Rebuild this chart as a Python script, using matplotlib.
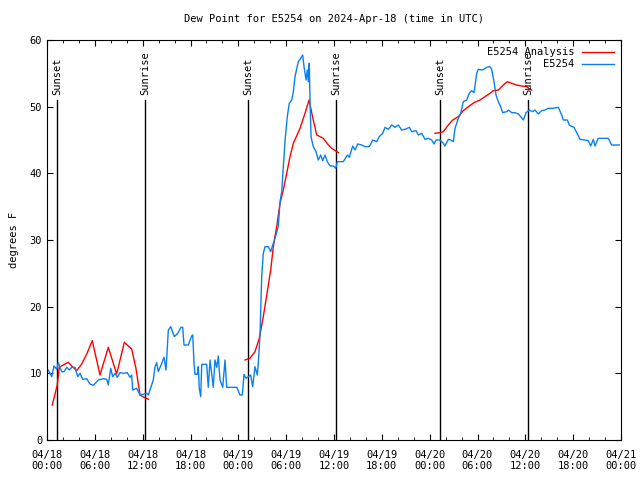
import numpy as np
import pandas as pd
import matplotlib
matplotlib.use('Agg')
import matplotlib.pyplot as plt
import matplotlib.dates as mdates

# hours since 2024-04-18 00:00 UTC, dew point in F
obs_hours = [0.16, 0.59, 0.88, 1.22, 1.42, 1.84, 2.13, 2.47, 2.80, 3.10, 3.51, 3.85, 4.14, 4.48, 4.98,
             5.39, 5.81, 6.44, 7.06, 7.49, 7.69, 7.99, 8.24, 8.53, 8.82, 9.16, 9.66, 10.07, 10.41, 10.62,
             10.75, 11.25, 11.67, 12.51, 12.71, 13.33, 13.55, 13.76, 13.96, 14.39, 14.68, 14.93, 15.22,
             15.52, 15.97, 16.39, 16.81, 17.02, 17.19, 17.72, 18.15, 18.28, 18.44, 18.56, 18.85, 18.98,
             19.10, 19.28, 19.41, 20.03, 20.23, 20.45, 20.66, 20.86, 21.07, 21.29, 21.49, 21.70, 22.04,
             22.33, 22.54, 23.80, 24.21, 24.50, 24.71, 24.96, 25.25, 25.55, 25.80, 26.09, 26.38, 26.50,
             26.72, 26.93, 27.13, 27.35, 27.76, 28.06, 28.31, 28.60, 29.01, 29.23, 29.44, 29.64, 29.85,
             30.14, 30.39, 30.70, 30.90, 31.11, 31.52, 31.82, 32.07, 32.24, 32.49, 32.65, 32.78, 32.90,
             32.99, 33.12, 33.40, 33.74, 34.03, 34.33, 34.58, 34.87, 35.16, 35.50, 35.91, 36.21, 36.42,
             37.17, 37.67, 37.92, 38.35, 38.64, 38.97, 39.48, 39.89, 40.43, 40.86, 41.36, 41.68, 42.11,
             42.40, 42.81, 43.24, 43.65, 44.07, 44.49, 44.91, 45.45, 45.75, 46.29, 46.58, 47.00, 47.42,
             47.83, 48.26, 48.54, 48.80, 49.30, 49.71, 49.92, 50.34, 50.64, 50.97, 51.18, 51.59, 51.89,
             52.22, 52.65, 52.97, 53.27, 53.56, 53.90, 54.10, 54.65, 55.16, 55.57, 55.78, 56.07, 56.32,
             56.61, 56.91, 57.16, 57.66, 57.87, 58.29, 58.71, 59.12, 59.42, 59.75, 60.09, 60.50, 60.93,
             61.21, 61.63, 62.05, 62.47, 62.88, 63.43, 64.14, 64.56, 64.76, 65.27, 65.52, 65.69, 66.11,
             66.44, 66.86, 67.49, 67.90, 68.20, 68.53, 68.74, 69.15, 70.41, 70.83, 71.79]
obs_dewpt = [10.5, 9.5, 11.1, 10.6, 11.6, 10.25, 10.25, 10.9, 10.5, 10.9, 10.9, 9.5, 10, 9.1, 9.2,
             8.4, 8.2, 9, 9.2, 9.1, 8.25, 10.75, 9.5, 10, 9.4, 10.1, 10, 10.1, 9.4, 9.75,
             7.5, 7.75, 6.75, 7, 6.75, 9, 11, 11.6, 10.25, 11.5, 12.4, 10.5, 16.5,
             17, 15.5, 16, 16.9, 16.9, 14.25, 14.25, 15.6, 15.75, 11.5, 9.85, 9.85, 11,
             7.75, 6.5, 11.35, 11.35, 7.9, 12, 9.85, 7.9, 12, 10.9, 12.6, 9, 7.9,
             12, 7.9, 7.9, 6.75, 6.75, 9.85, 9.25, 9.5, 9.75, 8, 11, 9.75, 11.5,
             15.75, 24.5, 28, 29, 29, 28.25, 29.25, 30.25, 32, 35.75, 37.25, 41, 44.75,
             48.5, 50.5, 51, 52.25, 54.5, 56.75, 57.25, 57.75, 56, 54, 55.5, 53.75, 56.5,
             51, 45.5, 44, 43.25, 42, 42.75, 41.9, 42.75, 41.75, 41.1, 41.1, 40.75, 41.75,
             41.75, 42.75, 42.4, 44.1, 43.5, 44.4, 44.25, 44, 44, 45, 44.75, 45.5, 46,
             46.9, 46.6, 47.25, 46.9, 47.25, 46.5, 46.6, 46.9, 46.25, 46.4, 45.75, 46, 45.1,
             45.25, 45, 44.4, 45, 45, 44.5, 44.1, 45.1, 45, 44.75, 46.75, 48.25, 49,
             50.75, 51, 52, 52.4, 52.1, 55, 55.6, 55.5, 55.9, 56, 55.6, 53.75, 51.75,
             50.75, 50, 49.1, 49.25, 49.5, 49.1, 49.1, 48.9, 48.5, 48, 49.1, 49.5, 49.25,
             49.5, 48.9, 49.4, 49.5, 49.75, 49.75, 49.9, 48.75, 48, 48, 47.25, 47.1, 46.9,
             46.1, 45.1, 45, 44.9, 44.1, 45.1, 44.1, 45.25, 45.25, 44.25, 44.25]

# analysis, NaN splits the three runs
ana_hours = [0.66, 1.29, 1.54, 2.04, 2.67, 3.10, 3.73, 4.35, 4.98, 5.68, 6.65, 7.69, 8.74, 9.70,
             10.62, 11.16, 11.67, 12.17, 12.71, 18.0,
             24.84, 25.46, 26.09, 26.63, 27.13, 27.63, 28.06, 28.39, 28.81, 29.23, 29.64, 30.07,
             30.48, 30.90, 31.74, 32.36, 32.87, 33.40, 33.83, 34.66, 35.29, 35.71, 36.54, 42.0,
             48.67, 49.30, 49.71, 50.34, 50.89, 51.59, 52.22, 52.97, 53.56, 54.32, 54.94, 55.57,
             55.98, 56.61, 57.24, 57.74, 58.29, 58.92, 59.55, 60.17, 60.59, 60.80]
ana_dewpt = [5.25, 8.25, 10.9, 11.25, 11.65, 11.1, 10.4, 11.4, 12.9, 14.9, 9.75, 13.9, 9.9, 14.65,
             13.65, 10.75, 6.75, 6.4, 6.1, np.nan,
             12, 12.25, 13.25, 15.25, 18.5, 22.25, 25.5, 29, 32, 35.5, 37.5, 40,
             42.5, 44.5, 46.75, 49, 51, 48, 45.75, 45.25, 44.25, 43.75, 43.1, np.nan,
             46, 46.1, 46.25, 47.25, 48, 48.5, 49.4, 50.1, 50.6, 51, 51.5, 52,
             52.4, 52.5, 53.25, 53.75, 53.5, 53.25, 53.1, 53, 52.6, 52.5]

sun_hours = [1.25, 12.3, 25.2, 36.3, 49.3, 60.35]
sun_labels = ['Sunset', 'Sunrise', 'Sunset', 'Sunrise', 'Sunset', 'Sunrise']

t0 = pd.Timestamp('2024-04-18 00:00')
to_time = lambda h: [t0 + pd.Timedelta(hours=v) for v in h]

plt.rcParams['font.family'] = 'DejaVu Sans Mono'
plt.rcParams['font.size'] = 7

fig = plt.figure(figsize=(6.4, 4.8), dpi=100)
ax = fig.add_axes([47 / 640, 40 / 480, 574 / 640, 400 / 480])

for h, lab in zip(sun_hours, sun_labels):
    ax.axvline(to_time([h])[0], ymin=0, ymax=51 / 60, color='black', lw=1)
    ax.text(to_time([h])[0], 51.8, lab, rotation=90, ha='center', va='bottom', fontsize=7.5)

ax.plot(to_time(ana_hours), ana_dewpt, color='#ff0000', lw=1, label='E5254 Analysis')
ax.plot(to_time(obs_hours), obs_dewpt, color='#0a80f0', lw=1, label='E5254')

ax.set_xlim(t0, t0 + pd.Timedelta(hours=72))
ax.set_ylim(0, 60)
ax.set_yticks(range(0, 61, 10))
ax.xaxis.set_major_locator(mdates.HourLocator(byhour=[0, 6, 12, 18]))
ax.xaxis.set_minor_locator(mdates.HourLocator(byhour=range(0, 24, 2)))
ax.xaxis.set_major_formatter(mdates.DateFormatter('%m/%d\n%H:%M'))
ax.tick_params(which='both', direction='in', top=True, right=True, labelsize=7.5)
ax.tick_params(which='major', length=4)
ax.tick_params(which='minor', length=2)
ax.tick_params(axis='x', pad=7)
ax.set_ylabel('degrees F', fontsize=7.5, labelpad=8)
ax.set_title('Dew Point for E5254 on 2024-Apr-18 (time in UTC)', fontsize=7.5, pad=13)
ax.legend(loc='upper right', frameon=False, markerfirst=False, handlelength=3.0,
          borderaxespad=0.3, labelspacing=0.2, fontsize=7.5)

fig.savefig('out.png', dpi=100)
